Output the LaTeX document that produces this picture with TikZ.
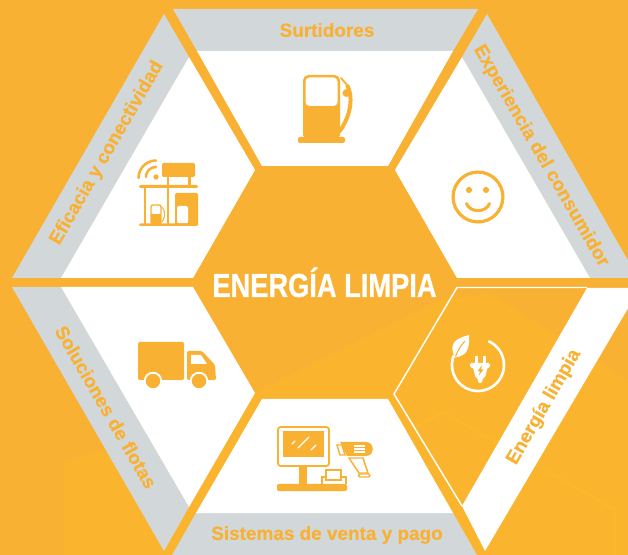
\documentclass[tikz,border=0pt]{standalone}
\usepackage{fontspec}
\usepackage{graphicx}
\setmainfont{Liberation Sans}
\newfontfamily\labf[BoldFeatures={FakeBold=0.25}]{Liberation Sans}
\newfontfamily\titf[BoldFeatures={FakeBold=0.8}]{Liberation Sans}
\definecolor{og}{HTML}{F9B133}
\definecolor{ogl}{HTML}{FAB42E}
\definecolor{ogf}{HTML}{FBB82C}
\definecolor{gy}{HTML}{D2D7DA}
\tikzset{
  panel/.style={fill=white,draw=none},
  strip/.style={fill=gy,draw=none},
  iconfill/.style={fill=og,draw=none},
  iconline/.style={draw=og,line width=2.2pt,fill=none,line cap=round,line join=round},
  lab/.style={text=og,font=\labf\fontsize{14.2}{16}\bfseries,inner sep=0pt}
}
\begin{document}
\begin{tikzpicture}[x=0.75pt,y=-0.75pt]
\useasboundingbox (0,0) rectangle (628,555);
\clip (0,0) rectangle (628,555);
% background
\fill[ogl] (0,0) rectangle (628,555);
\fill[og] (0,0) -- (628,0) -- (628,380) -- (490,293) -- (440,300) -- (255,393) -- (63,463) -- (63,555) -- (0,555) -- cycle;
\draw[ogf,line width=2.2pt] (417,427) -- (443,412) -- (615,510) -- (615,555);
% top-left panel
\fill[strip] (164,14) -- (12,278) -- (61,278) -- (189,57) -- cycle;
\fill[panel] (189,57) -- (61,278) -- (193,278) -- (255,170) -- cycle;
% top panel
\fill[strip] (173,9) -- (478,9) -- (453,51) -- (197,51) -- cycle;
\fill[panel] (197,51) -- (453,51) -- (388,166) -- (262,166) -- cycle;
% top-right panel
\fill[strip] (487,14) -- (638,278) -- (590,278) -- (462,57) -- cycle;
\fill[panel] (462,57) -- (590,278) -- (457,278) -- (395,170) -- cycle;
% bottom-left panel
\fill[strip] (12,287) -- (164,551) -- (189,507) -- (61,287) -- cycle;
\fill[panel] (61,287) -- (193,287) -- (255,393) -- (189,507) -- cycle;
% bottom panel
\fill[strip] (196,513) -- (453,513) -- (477,555) -- (172,555) -- cycle;
\fill[panel] (262,399) -- (388,399) -- (453,513) -- (196,513) -- cycle;
% bottom-right panel
\fill[panel] (587,288) -- (640,288) -- (485,551) -- (462,506) -- cycle;
\draw[white,line width=1.1pt,line join=miter] (587,287.5) -- (457,287.5) -- (394,394) -- (462,506);
% centre hexagon label
\node[text=white,inner sep=0pt,anchor=base] (title) at (324.5,297) {\titf\fontsize{25}{30}\bfseries\scalebox{0.818}[1]{ENERGÍA LIMPIA}};
% labels
\node[lab] (l1) at (327,30) {Surtidores};
\node[lab,rotate=60] (l2) at (107,153) {Eficacia y conectividad};
\node[lab,rotate=-60] (l3) at (541,156) {Experiencia del consumidor};
\node[lab,rotate=-60] (l4) at (106,407) {Soluciones de flotas};
\node[lab] (l5) at (327,535) {Sistemas de venta y pago};
\node[lab,rotate=60] (l6) at (544,407) {Energía limpia};
% pump icon
\fill[iconfill,rounded corners=4pt] (303,75) rectangle (340,140);
\fill[iconfill,rounded corners=1.5pt] (298,137) rectangle (345,143);
\fill[white,rounded corners=3pt] (305.5,77.5) rectangle (337.5,106);
\draw[og,line width=1.4pt,line cap=round] (341,78) -- (347,85);
\draw[og,line width=3pt] (347,85) .. controls (353,95) and (352,115) .. (339,132);
\fill[iconfill] (346.5,93) circle[radius=3pt];
% station icon
\fill[iconfill,rounded corners=1pt] (162,163) rectangle (195,177);
\fill[iconfill] (166.5,177) rectangle (168.5,224);
\fill[iconfill] (188,177) rectangle (190.5,186);
\fill[iconfill,rounded corners=1pt] (139,185) rectangle (198,188);
\fill[iconfill] (144,188) rectangle (146,224);
\fill[iconfill,rounded corners=1pt] (175,193) rectangle (198,226);
\fill[white,rounded corners=1.5pt] (177,206) rectangle (188,223.5);
\fill[iconfill,rounded corners=1pt] (139,223.5) rectangle (198,226);
\draw[og,line width=1.1pt,rounded corners=1.5pt] (151,223) -- (151,205) -- (161,205) -- (161,223);
\fill[iconfill] (151,214) rectangle (161,224);
\draw[og,line width=0.8pt] (162,207) .. controls (166,211) and (165,218) .. (162,222);
\fill[iconfill] (156,177) circle[radius=2pt];
\draw[iconline,line width=1.9pt] plot[smooth,domain=90:180,samples=8] ({156+10*cos(\x)},{177-10*sin(\x)});
\draw[iconline,line width=1.9pt] plot[smooth,domain=90:180,samples=8] ({156+17.5*cos(\x)},{178-17.5*sin(\x)});
% smiley
\draw[iconline,line width=2.4pt] (478,197) circle[radius=18.7pt];
\fill[iconfill] (469,190) circle[radius=2.3pt];
\fill[iconfill] (486,190) circle[radius=2.3pt];
\draw[iconline,line width=2.3pt] (466.5,203.5) .. controls (470,213) and (486,213) .. (489.5,203.5);
% truck
\fill[iconfill,rounded corners=1pt] (138,342) rectangle (184,380);
\fill[iconfill,rounded corners=1pt] (187,351) -- (202,351) -- (215,365) -- (216,380) -- (187,380) -- cycle;
\fill[white] (191,355) -- (201,355) -- (207,364) -- (191,364) -- cycle;
\fill[iconfill,draw=white,line width=1.4pt] (153,381) circle[radius=6.2pt];
\fill[iconfill,draw=white,line width=1.4pt] (199,381) circle[radius=6.2pt];
% POS
\draw[iconline,line width=1.4pt,rounded corners=2pt] (278,427) rectangle (329,466);
\fill[iconfill] (283,431) rectangle (324,457);
\draw[white,line width=0.9pt,line cap=round] (292,444) -- (295,441);
\draw[white,line width=0.9pt,line cap=round] (298,448) -- (309,437);
\draw[white,line width=0.9pt,line cap=round] (311,450) -- (316,445);
\fill[iconfill] (299,466) rectangle (307,484);
\fill[iconfill,rounded corners=1pt] (277,484) rectangle (347,491);
\draw[og,line width=1.1pt] (322,484) -- (322,477) -- (346,477) -- (346,484);
\draw[og,line width=1.1pt,fill=white] (326,480) -- (326,470) -- (341,470) -- (341,480) -- cycle;
\fill[iconfill] (340,442) -- (366,442) .. controls (375,442) and (375,456) .. (366,456) -- (347,456) -- cycle;
\draw[og,line width=1.1pt,fill=white] (337,445) -- (342,445) -- (345,455) -- (340,455) -- cycle;
\draw[white,line width=0.8pt] (354,446) -- (365,446) (354,449) -- (365,449) (354,452) -- (365,452);
\draw[og,line width=1.1pt,fill=white] (349,458) -- (363,458) -- (368,473) -- (359,473) -- cycle;
\draw[og,line width=1.1pt,fill=white,rounded corners=1pt] (358.5,474) rectangle (370,477);
% plug icon
\draw[white,line width=2pt,line cap=round] plot[smooth,domain=65:-200,samples=40] ({478+26*cos(\x)},{365-26*sin(\x)});
\fill[white] (455,357.5) .. controls (449,345) and (453,339) .. (469,335) .. controls (470,350) and (466,356) .. (455,357.5) -- cycle;
\draw[og,line width=0.8pt] (455.5,356.5) .. controls (458,350) and (461,345) .. (465,341);
\fill[white] (474.5,356) rectangle (477.5,364);
\fill[white] (482.5,356) rectangle (486,364);
\fill[white,rounded corners=1pt] (470,363) -- (490,363) -- (490,367.5) -- (487.5,367.5) -- (485,377.5) -- (482.3,378.5) -- (482.3,383) -- (478,383) -- (478,378.5) -- (475.5,377.5) -- (473,367.5) -- (470,367.5) -- cycle;
\fill[og] (482,365) -- (477.5,371.5) -- (480,371.5) -- (478.5,376) -- (483.5,369.5) -- (481,369.5) -- cycle;
\end{tikzpicture}
\end{document}
